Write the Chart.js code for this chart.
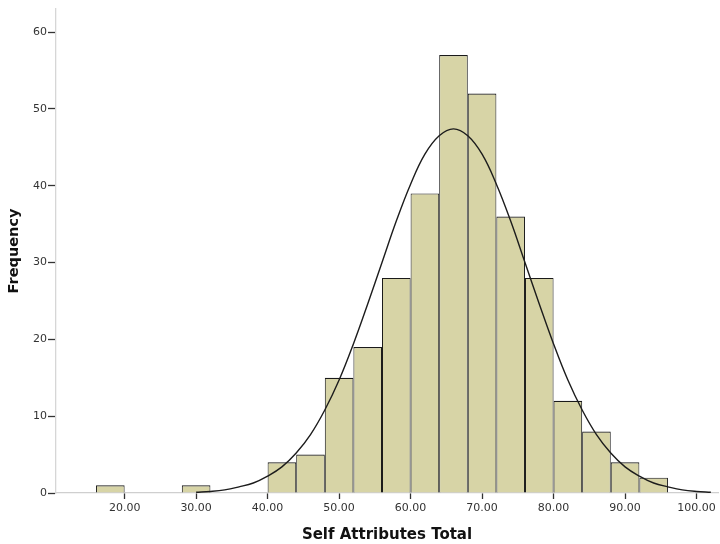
<!DOCTYPE html>
<html>
<head>
<meta charset="utf-8">
<title>Self Attributes Total</title>
<script src="https://cdn.jsdelivr.net/npm/chart.js@4"></script>
<style>
  html,body{margin:0;padding:0;background:#fff;}
  #wrap{width:720px;height:544px;position:relative;}
</style>
</head>
<body>
<div id="wrap"><canvas id="hist"></canvas></div>
<script>
// histogram bins (width 4) and their frequencies
const binStarts = [16,20,24,28,32,36,40,44,48,52,56,60,64,68,72,76,80,84,88,92];
const counts    = [ 1, 0, 0, 1, 0, 0, 4, 5,15,19,28,39,57,52,36,28,12, 8, 4, 2];
const binWidth = 4;

// normal curve
const curveX = [30,32,34,36,38,40,42,44,46,48,50,52,54,56,58,60,62,64,66,68,70,72,74,76,78,80,82,84,86,88,90,92,94,96,98,100,102];
const curveY = [0.1,0.2,0.4,0.8,1.3,2.2,3.4,5.2,7.6,10.8,14.7,19.4,24.6,30.0,35.4,40.2,44.1,46.5,47.4,46.5,44.1,40.2,35.4,30.0,24.6,19.4,14.7,10.8,7.6,5.2,3.4,2.2,1.3,0.8,0.4,0.2,0.1];

const xTicks = [20,30,40,50,60,70,80,90,100];
const yTicks = [0,10,20,30,40,50,60];

const barPoints = binStarts.map((b,i)=>({x:b+binWidth/2, y:counts[i]===0?null:counts[i]}));
const curvePoints = curveX.map((x,i)=>({x, y:curveY[i]}));

const tickFont = {family:'"DejaVu Sans", sans-serif', size:11};
const titleFont = {family:'"DejaVu Sans", sans-serif', size:14.5, weight:'bold'};

new Chart(document.getElementById('hist'), {
  type:'bar',
  data:{
    datasets:[
      {type:'line', data:curvePoints, borderColor:'#1c1c1c', borderWidth:1.4,
       pointRadius:0, tension:0.4, fill:false, order:1},
      {type:'bar', data:barPoints, backgroundColor:'#d7d4a6', borderColor:'#1a1a1a',
       borderWidth:{top:1.2, left:1, right:1, bottom:0}, borderSkipped:'start', inflateAmount:0,
       barPercentage:1, categoryPercentage:1, order:2}
    ]
  },
  options:{
    responsive:true, maintainAspectRatio:false, animation:false,
    layout:{padding:{top:9, right:2, left:0, bottom:0}},
    plugins:{legend:{display:false}, tooltip:{enabled:false}},
    scales:{
      x:{
        type:'linear', min:10.4, max:103, offset:false,
        afterBuildTicks:s=>{ s.ticks = xTicks.map(v=>({value:v})); },
        afterFit:s=>{ s.height = 51; },
        ticks:{color:'#333', font:tickFont, padding:3, maxRotation:0,
               callback:v=>Number(v).toFixed(2)},
        grid:{offset:false, drawOnChartArea:false, drawTicks:true, tickLength:6, tickColor:'#333', tickWidth:1.3},
        border:{display:true, color:'#cfcfcf', width:1.3},
        title:{display:true, text:'Self Attributes Total', color:'#111',
               font:Object.assign({}, titleFont, {size:15}), padding:{top:0,bottom:0}}
      },
      y:{
        min:0, max:63,
        afterBuildTicks:s=>{ s.ticks = yTicks.map(v=>({value:v})); },
        afterFit:s=>{ s.width = 56; },
        ticks:{color:'#333', font:tickFont, padding:1},
        grid:{drawOnChartArea:false, drawTicks:true, tickLength:8, tickColor:'#333', tickWidth:1.3},
        border:{display:true, color:'#d6d6d6', width:1.3},
        title:{display:true, text:'Frequency', color:'#111', font:titleFont, padding:{top:6,bottom:0}}
      }
    }
  }
});
</script>
</body>
</html>
